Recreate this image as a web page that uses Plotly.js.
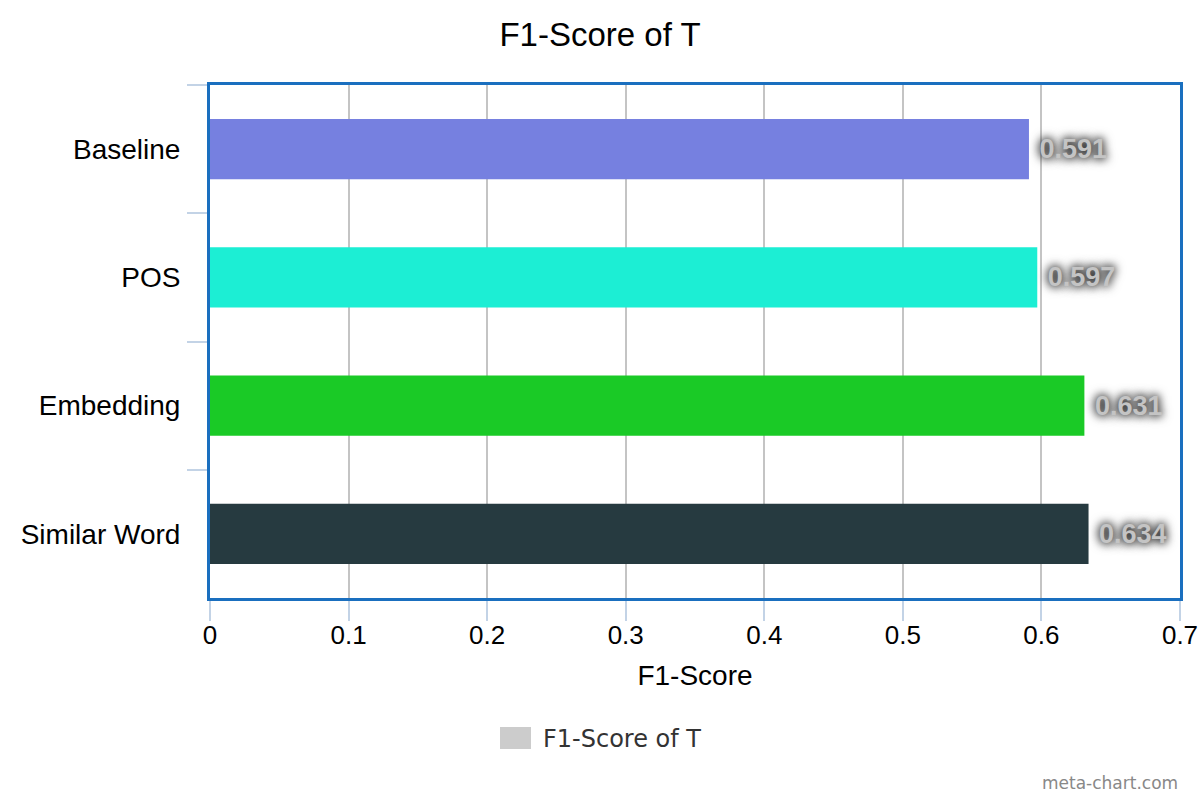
<!DOCTYPE html>
<html>
<head>
<meta charset="utf-8">
<script src="https://cdn.plot.ly/plotly-3.0.1.min.js"></script>
<style>html,body{margin:0;padding:0;background:#fff;}#chart{width:1200px;height:800px;}</style>
</head>
<body>
<div id="chart"></div>
<script>
var categories = ["Baseline", "POS", "Embedding", "Similar Word"];
var scores = [0.591, 0.597, 0.631, 0.634];
var barColors = ["#7680E0", "#1CEED4", "#1ACA26", "#263A40"];
var labels = ["0.591", "0.597", "0.631", "0.634"];
var xTicks = [0, 0.1, 0.2, 0.3, 0.4, 0.5, 0.6, 0.7];
var xTickText = ["0", "0.1", "0.2", "0.3", "0.4", "0.5", "0.6", "0.7"];
var seriesName = "F1-Score of T";

var trace = {
  type: "bar",
  orientation: "h",
  x: scores,
  y: categories,
  text: labels.map(function (s) { return " " + s; }),
  textposition: "outside",
  cliponaxis: false,
  textfont: {family: "Liberation Sans, Arial, sans-serif", size: 27, color: "#c4c4c4", weight: "bold", shadow: "0px 0px 9px #000, 0px 0px 12px #444"},
  marker: {color: barColors},
  width: 0.47,
  showlegend: false,
  hoverinfo: "x+y"
};

var layout = {
  width: 1200, height: 800,
  margin: {l: 210, r: 20, t: 85, b: 202},
  paper_bgcolor: "#fff", plot_bgcolor: "#fff",
  font: {family: "Liberation Sans, Arial, sans-serif", color: "#000"},
  title: {text: "F1-Score of T", font: {size: 33, color: "#000"}, x: 0.5, xanchor: "center", y: 0.957, yanchor: "middle"},
  xaxis: {
    range: [0, 0.7], tickvals: xTicks, ticktext: xTickText,
    showgrid: true, gridcolor: "#c4c4c4", gridwidth: 2,
    zeroline: false,
    showline: true, linecolor: "#1a6fbf", linewidth: 3, mirror: true,
    ticks: "outside", ticklen: 20, tickcolor: "#c3d3e6", tickwidth: 2,
    ticklabelstandoff: -8,
    tickfont: {size: 26, color: "#000"},
    title: {text: "F1-Score", font: {size: 28, color: "#000"}, standoff: 17}
  },
  yaxis: {
    type: "category", autorange: "reversed",
    showgrid: false, zeroline: false,
    showline: true, linecolor: "#1a6fbf", linewidth: 3, mirror: true,
    ticks: "outside", tickson: "boundaries", ticklen: 20, tickcolor: "#c3d3e6", tickwidth: 2,
    ticklabelstandoff: 21,
    tickfont: {size: 28, color: "#000"}
  },
  shapes: [
    {type: "rect", xref: "paper", yref: "paper", x0: (500-210)/970, x1: (531-210)/970, y0: (598-749)/513, y1: (598-727)/513, fillcolor: "#cccccc", line: {width: 0}}
  ],
  annotations: [
    {xref: "paper", yref: "paper", x: (541-210)/970, y: (598-739)/513, xanchor: "left", yanchor: "middle", text: seriesName, showarrow: false, font: {family: "DejaVu Sans, sans-serif", size: 24, color: "#333"}},
    {xref: "paper", yref: "paper", x: (1180-210)/970, y: (598-783)/513, xanchor: "right", yanchor: "middle", text: "meta-chart.com", showarrow: false, font: {family: "DejaVu Sans, sans-serif", size: 17, color: "#888"}}
  ]
};

Plotly.newPlot("chart", [trace], layout, {displayModeBar: false, staticPlot: true});
</script>
</body>
</html>
